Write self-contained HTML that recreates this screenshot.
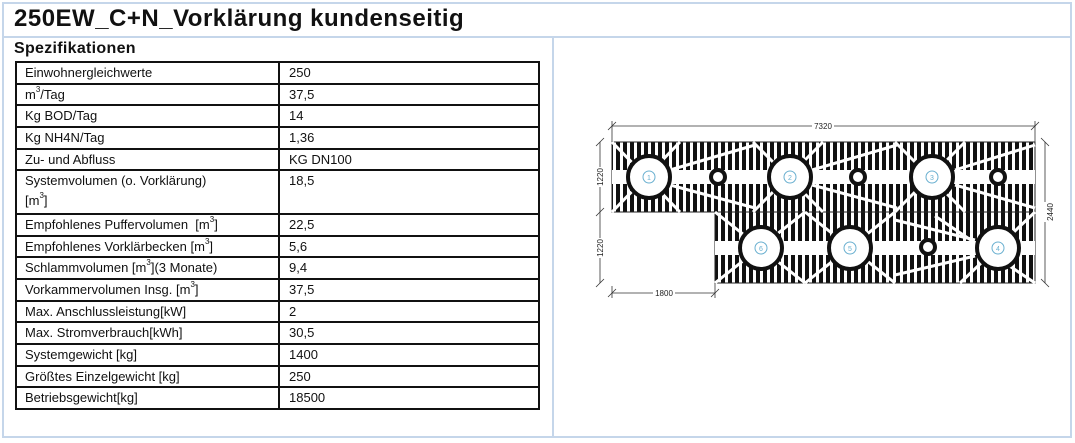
<!DOCTYPE html>
<html><head><meta charset="utf-8"><style>
*{margin:0;padding:0;box-sizing:border-box}
body{width:1075px;height:443px;background:#fff;position:relative;font-family:"Liberation Sans",sans-serif;overflow:hidden}
.l{position:absolute;background:#c5d6ea}
h1{position:absolute;left:14px;top:5px;font-size:24px;font-weight:bold;color:#111;letter-spacing:0.5px}
h2{position:absolute;left:14px;top:40px;font-size:16px;font-weight:bold;color:#111;letter-spacing:0.3px}
.t{position:absolute;left:15px;top:61px;width:525px;height:349px;border:2px solid #111;font-size:13px;color:#111}
.r{height:21.7px;border-top:2px solid #111;display:flex;line-height:19px}
.r.first{border-top:none;height:19.7px}
.r.tall{height:43.4px;line-height:20px}
.c1{width:262px;padding-left:8px}
.c2{padding-left:10px}
.sp{position:absolute;left:261px;top:0;bottom:0;width:2px;background:#111}
sup{font-size:8px;vertical-align:top;line-height:10px}
</style></head><body>
<div class="l" style="left:2px;top:2px;width:1070px;height:2px"></div>
<div class="l" style="left:2px;top:36px;width:1070px;height:2px"></div>
<div class="l" style="left:2px;top:436px;width:1070px;height:2px"></div>
<div class="l" style="left:2px;top:2px;width:2px;height:436px"></div>
<div class="l" style="left:1070px;top:2px;width:2px;height:436px"></div>
<div class="l" style="left:552px;top:36px;width:2px;height:402px"></div>
<h1>250EW_C+N_Vorklärung kundenseitig</h1>
<h2>Spezifikationen</h2>
<div class="t">
<div class="sp"></div>
<div class="r first"><div class="c1">Einwohnergleichwerte</div><div class="c2">250</div></div>
<div class="r"><div class="c1">m<sup>3</sup>/Tag</div><div class="c2">37,5</div></div>
<div class="r"><div class="c1">Kg BOD/Tag</div><div class="c2">14</div></div>
<div class="r"><div class="c1">Kg NH4N/Tag</div><div class="c2">1,36</div></div>
<div class="r"><div class="c1">Zu- und Abfluss</div><div class="c2">KG DN100</div></div>
<div class="r tall"><div class="c1">Systemvolumen (o. Vorklärung)<br>[m<sup>3</sup>]</div><div class="c2">18,5</div></div>
<div class="r"><div class="c1">Empfohlenes Puffervolumen &nbsp;[m<sup>3</sup>]</div><div class="c2">22,5</div></div>
<div class="r"><div class="c1">Empfohlenes Vorklärbecken [m<sup>3</sup>]</div><div class="c2">5,6</div></div>
<div class="r"><div class="c1">Schlammvolumen [m<sup>3</sup>](3 Monate)</div><div class="c2">9,4</div></div>
<div class="r"><div class="c1">Vorkammervolumen Insg. [m<sup>3</sup>]</div><div class="c2">37,5</div></div>
<div class="r"><div class="c1">Max. Anschlussleistung[kW]</div><div class="c2">2</div></div>
<div class="r"><div class="c1">Max. Stromverbrauch[kWh]</div><div class="c2">30,5</div></div>
<div class="r"><div class="c1">Systemgewicht [kg]</div><div class="c2">1400</div></div>
<div class="r"><div class="c1">Größtes Einzelgewicht [kg]</div><div class="c2">250</div></div>
<div class="r"><div class="c1">Betriebsgewicht[kg]</div><div class="c2">18500</div></div>
</div>
<svg style="position:absolute;left:0;top:0" width="1075" height="443">
<defs>
<pattern id="st" width="7" height="10" patternUnits="userSpaceOnUse"><rect width="7" height="10" fill="#fff"/><rect x="0" width="4" height="10" fill="#111"/></pattern>
</defs>
<g stroke="#222" stroke-width="1">
<rect x="612" y="142" width="423" height="70" fill="url(#st)"/>
<rect x="715" y="212" width="320" height="71" fill="url(#st)"/>
</g>
<g stroke="#fff" stroke-width="3" fill="none">
<line x1="612" y1="177" x2="1035" y2="177" stroke-width="14"/>
<line x1="715" y1="248" x2="1035" y2="248" stroke-width="14"/>
<path d="M612 142L680 212M680 142L612 212M753 142L823 212M823 142L753 212M895 142L965 212M965 142L895 212"/>
<path d="M670 170L755 145M670 185L755 208M812 170L897 145M812 185L897 208M955 170L1035 145M955 185L1035 208"/>
<path d="M715 212L805 283M805 212L715 283M805 212L895 283M895 212L805 283M935 216L1035 283M1035 212L960 283M895 220L975 240M895 275L975 256"/>
</g>
<g stroke="#111" stroke-width="4" fill="#fff">
<circle cx="649" cy="177" r="21"/><circle cx="790" cy="177" r="21"/><circle cx="932" cy="177" r="21"/>
<circle cx="761" cy="248" r="21"/><circle cx="850" cy="248" r="21"/><circle cx="998" cy="248" r="21"/>
<circle cx="718" cy="177" r="7"/><circle cx="858" cy="177" r="7"/><circle cx="998" cy="177" r="7"/><circle cx="928" cy="247" r="7"/>
</g>
<g fill="none" stroke="#6ab0d0" stroke-width="1">
<circle cx="649" cy="177" r="6"/><circle cx="790" cy="177" r="6"/><circle cx="932" cy="177" r="6"/>
<circle cx="761" cy="248" r="6"/><circle cx="850" cy="248" r="6"/><circle cx="998" cy="248" r="6"/>
</g>
<g font-size="7" fill="#6ab0d0" text-anchor="middle" font-family="Liberation Sans">
<text x="649" y="180">1</text><text x="790" y="180">2</text><text x="932" y="180">3</text>
<text x="761" y="251">6</text><text x="850" y="251">5</text><text x="998" y="251">4</text>
</g>
<g stroke="#333" stroke-width="0.8">
<line x1="612" y1="126" x2="1035" y2="126"/><line x1="612" y1="121" x2="612" y2="142"/><line x1="1035" y1="121" x2="1035" y2="142"/>
<line x1="608" y1="130" x2="616" y2="122"/><line x1="1031" y1="130" x2="1039" y2="122"/>
<line x1="600" y1="142" x2="600" y2="283"/><line x1="596" y1="146" x2="604" y2="138"/><line x1="596" y1="216" x2="604" y2="208"/><line x1="596" y1="287" x2="604" y2="279"/>
<line x1="1045" y1="142" x2="1045" y2="283"/><line x1="1041" y1="138" x2="1049" y2="146"/><line x1="1041" y1="279" x2="1049" y2="287"/>
<line x1="612" y1="293" x2="715" y2="293"/><line x1="612" y1="286" x2="612" y2="298"/><line x1="715" y1="283" x2="715" y2="298"/>
<line x1="608" y1="297" x2="616" y2="289"/><line x1="711" y1="297" x2="719" y2="289"/>
</g>
<g font-size="8" fill="#222" font-family="Liberation Sans" text-anchor="middle">
<rect x="812" y="121" width="22" height="9" fill="#fff"/><text x="823" y="129">7320</text>
<rect x="653" y="288" width="22" height="9" fill="#fff"/><text x="664" y="296">1800</text>
<g transform="translate(603,177) rotate(-90)"><rect x="-10" y="-8" width="20" height="10" fill="#fff"/><text x="0" y="0">1220</text></g>
<g transform="translate(603,248) rotate(-90)"><rect x="-10" y="-8" width="20" height="10" fill="#fff"/><text x="0" y="0">1220</text></g>
<g transform="translate(1048,212) rotate(-90)"><rect x="-10" y="-8" width="20" height="10" fill="#fff"/><text x="0" y="5">2440</text></g>
</g>
</svg>
</body></html>
